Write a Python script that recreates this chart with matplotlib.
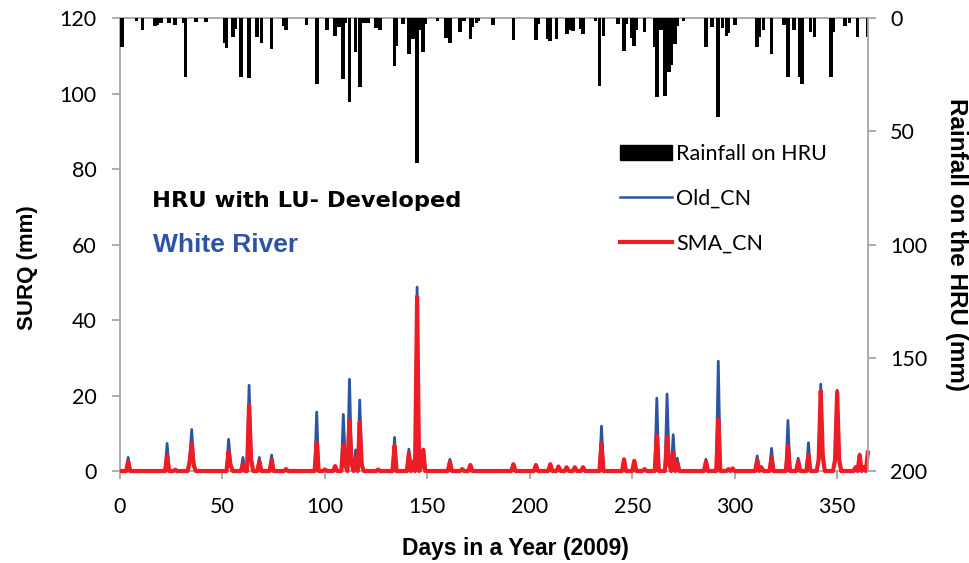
import numpy as np
import matplotlib
matplotlib.use("Agg")
import matplotlib.pyplot as plt
from matplotlib.patches import Patch
from matplotlib.lines import Line2D

# daily rainfall on the HRU (mm), only rainy days listed
rain_days = [1, 8, 11, 17, 18, 20, 24, 27, 31, 32, 37, 42, 51, 52, 55, 56, 59, 63, 67, 69,
             74, 80, 81, 91, 96, 101, 105, 107, 109, 110, 112, 115, 117, 119, 121, 125, 127,
             134, 135, 138, 141, 143, 145, 147, 148, 149, 155, 159, 161, 166, 168, 171, 172,
             174, 175, 182, 192, 203, 204, 209, 210, 213, 218, 219, 221, 225, 226, 232, 234,
             236, 243, 246, 247, 250, 251, 252, 256, 261, 262, 264, 266, 268, 269, 271, 272,
             275, 286, 289, 292, 294, 296, 297, 300, 311, 312, 314, 318, 324, 326, 329, 332,
             333, 337, 339, 347, 348, 354, 356, 360, 365]
rain_mm = [12.6, 1.2, 5.3, 3.4, 3.0, 2.0, 2.0, 3.0, 2.0, 25.9, 1.8, 1.8, 11.0, 13.2, 8.5, 5.0,
           25.9, 26.6, 8.5, 11.0, 13.7, 3.4, 5.3, 3.0, 29.0, 5.3, 7.8, 4.0, 27.0, 2.0, 37.0,
           15.0, 30.6, 2.0, 2.0, 4.4, 5.3, 21.0, 12.2, 2.6, 15.9, 9.1, 64.0, 5.5, 15.0, 2.6,
           1.2, 9.0, 11.2, 6.3, 1.2, 9.1, 4.0, 2.0, 1.2, 3.0, 9.7, 9.7, 2.6, 9.1, 10.3, 9.1,
           7.0, 5.3, 5.9, 4.9, 7.0, 1.2, 29.9, 7.8, 2.6, 14.4, 2.6, 8.8, 12.5, 5.5, 6.0, 13.0,
           34.7, 5.5, 34.5, 23.8, 20.9, 11.5, 3.4, 1.2, 12.6, 3.8, 43.8, 4.5, 7.8, 6.8, 3.0,
           13.0, 8.5, 5.3, 15.9, 3.0, 25.9, 5.3, 26.2, 29.1, 6.0, 8.5, 25.9, 6.0, 3.4, 2.0,
           8.5, 8.5]

# surface runoff (mm) on days with runoff, zero otherwise
q_days = [4, 23, 27, 34, 35, 36, 53, 54, 60, 63, 64, 68, 74, 81, 96, 100, 105, 109, 110, 112,
          113, 115, 117, 118, 126, 134, 141, 143, 145, 147, 148, 161, 167, 171, 192, 203, 210,
          214, 218, 222, 226, 235, 246, 251, 256, 262, 267, 268, 270, 272, 286, 292, 297, 299,
          311, 313, 318, 326, 331, 336, 341, 342, 343, 349, 350, 351, 359, 361, 363, 365]
old_cn = [3.6, 7.3, 0.5, 3.0, 11.0, 2.0, 8.4, 2.0, 3.6, 22.7, 4.0, 3.6, 4.2, 0.5, 15.6, 0.4,
          1.3, 15.0, 2.0, 24.3, 2.5, 5.6, 18.8, 2.0, 0.4, 8.9, 5.8, 2.5, 48.7, 1.0, 5.8, 3.1,
          0.5, 1.6, 1.8, 1.6, 1.8, 1.2, 1.0, 1.0, 1.0, 11.9, 3.1, 2.7, 0.5, 19.3, 20.4, 2.0,
          9.6, 3.4, 3.1, 29.1, 0.5, 0.7, 4.0, 1.0, 6.0, 13.4, 3.4, 7.5, 3.0, 23.0, 4.0, 3.0,
          21.4, 3.0, 1.0, 4.5, 1.0, 4.9]
sma_cn = [2.5, 4.1, 0.3, 2.5, 7.2, 1.5, 5.1, 1.5, 1.8, 17.5, 3.0, 2.5, 2.9, 0.5, 7.5, 0.4,
          1.3, 6.9, 1.5, 13.4, 2.0, 3.4, 12.9, 1.5, 0.4, 6.6, 4.7, 2.5, 46.2, 1.0, 5.6, 2.4,
          0.5, 1.6, 1.8, 1.6, 1.8, 1.2, 1.0, 1.0, 1.0, 7.3, 3.1, 2.7, 0.5, 9.3, 9.1, 2.0,
          4.7, 2.2, 2.5, 13.7, 0.5, 0.7, 2.9, 1.0, 3.6, 6.6, 2.5, 4.2, 3.0, 21.2, 4.0, 3.0,
          20.9, 3.0, 1.0, 4.2, 1.0, 4.9]

days = np.arange(1, 366)
old_series = np.zeros(365)
sma_series = np.zeros(365)
old_series[np.array(q_days) - 1] = old_cn
sma_series[np.array(q_days) - 1] = sma_cn

grey = "#a6a6a6"
blue = "#2c54a3"
red = "#ee1c25"
tick_font = "Lato"
bold_font = "Liberation Sans"

fig = plt.figure(figsize=(9.7, 5.63), dpi=100)
ax = fig.add_axes([0.1237, 0.1634, 0.771, 0.8046])

ax.plot(days, old_series, color=blue, lw=2.0, zorder=3, clip_on=False,
        solid_joinstyle="round")
ax.plot(days, sma_series, color=red, lw=3.0, zorder=4, clip_on=False,
        solid_joinstyle="round")

ax.set_xlim(0, 365)
ax.set_ylim(0, 120)
ax.set_xticks(np.arange(0, 351, 50))
ax.set_yticks(np.arange(0, 121, 20))
for s in ["left", "bottom", "top"]:
    ax.spines[s].set_color(grey)
    ax.spines[s].set_linewidth(1.3)
ax.spines["right"].set_visible(False)
ax.tick_params(axis="both", colors=grey, length=6, width=1.3, labelcolor="black",
               labelsize=15.5)
ax.tick_params(axis="y", pad=11)
ax.tick_params(axis="x", pad=13)
for lab in ax.get_xticklabels() + ax.get_yticklabels():
    lab.set_fontfamily(tick_font)

# rainfall on the inverted right axis
ax2 = ax.twinx()
ax2.bar(rain_days, rain_mm, width=1.8, color="black", zorder=2)
ax2.set_ylim(200, 0)
ax2.set_yticks(np.arange(0, 201, 50))
for s in ["left", "bottom", "top"]:
    ax2.spines[s].set_visible(False)
ax2.spines["right"].set_color(grey)
ax2.spines["right"].set_linewidth(1.3)
ax2.tick_params(axis="y", colors=grey, length=6, width=1.3, labelcolor="black",
                labelsize=15.5, pad=10)
for lab in ax2.get_yticklabels():
    lab.set_fontfamily(tick_font)

fig.text(28 / 970, 1 - 268 / 563, "SURQ (mm)", rotation=90, ha="center", va="center",
         fontsize=16, fontweight="bold", family=bold_font)
fig.text(957 / 970, 1 - 245 / 563, "Rainfall on the HRU (mm)", rotation=-90, ha="center",
         va="center", fontsize=17.5, fontweight="bold", family=bold_font)
fig.text(515 / 970, 1 - 548 / 563, "Days in a Year (2009)", ha="center", va="center",
         fontsize=16.5, fontweight="bold", family=bold_font)

fig.text(152 / 970, 1 - 201 / 563, "HRU with LU- Developed", ha="left", va="center",
         fontsize=16.2, fontweight="bold", family="DejaVu Sans")
fig.text(153 / 970, 1 - 245 / 563, "White River", ha="left", va="center",
         fontsize=19, fontweight="bold", family=bold_font, color=blue)

handles = [Patch(facecolor="black", edgecolor="black"),
           Line2D([], [], color=blue, lw=1.8),
           Line2D([], [], color=red, lw=3.0)]
labels = ["Rainfall on HRU", "Old_CN", "SMA_CN"]
leg = ax2.legend(handles, labels, loc="upper left",
                 bbox_to_anchor=(620 / 970, 1 - 144 / 563),
                 bbox_transform=fig.transFigure, frameon=False, borderpad=0,
                 borderaxespad=0, handlelength=2.4, handletextpad=0.2,
                 labelspacing=1.15, handleheight=0.65,
                 prop={"family": tick_font, "size": 15.5})

fig.savefig("out.png", dpi=100)
